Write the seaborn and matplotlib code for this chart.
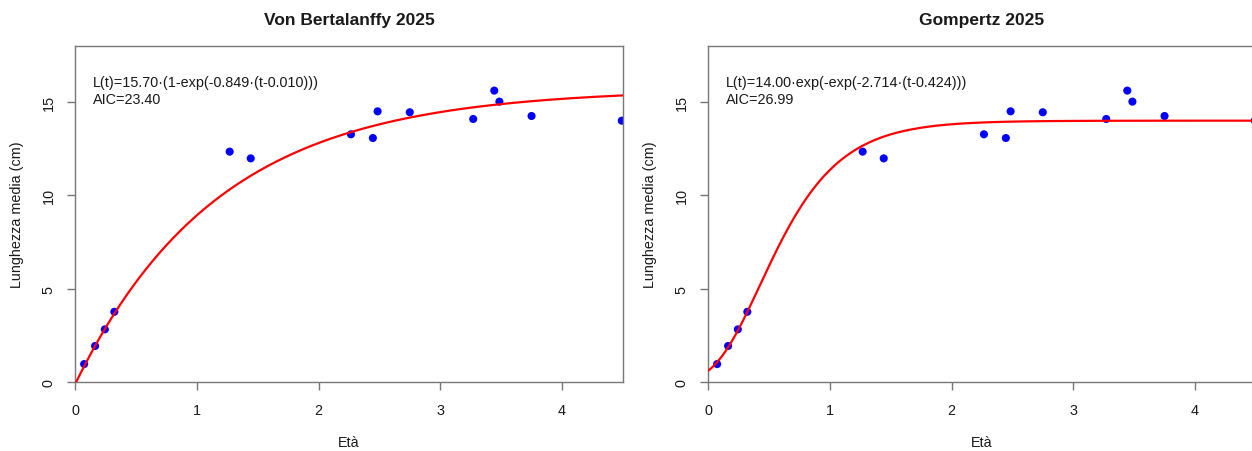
import numpy as np
import pandas as pd
import matplotlib
matplotlib.use("Agg")
import matplotlib.pyplot as plt
import seaborn as sns

# ---- data ----
age = [0.075, 0.165, 0.245, 0.323, 1.270, 1.443, 2.266, 2.446, 2.485,
       2.749, 3.270, 3.443, 3.485, 3.749, 4.490]
length_cm = [0.96, 1.93, 2.82, 3.76, 12.34, 11.98, 13.27, 13.07, 14.50,
             14.45, 14.09, 15.61, 15.02, 14.25, 14.00]

vb_Linf, vb_k, vb_t0 = 15.70, 0.849, 0.010
gz_Linf, gz_k, gz_ti = 14.00, 2.714, 0.424
aic_values = [23.40, 26.99]
titles = ["Von Bertalanffy 2025", "Gompertz 2025"]
x_ticks = [0, 1, 2, 3, 4]
y_ticks = [0, 5, 10, 15]
x_label = "Età"
y_label = "Lunghezza media (cm)"

points = pd.DataFrame({"age": age, "length": length_cm})

# model curves from the fitted parameters
t = np.linspace(0, 4.5, 500)
vb_curve = vb_Linf * (1 - np.exp(-vb_k * (t - vb_t0)))
gz_curve = gz_Linf * np.exp(-np.exp(-gz_k * (t - gz_ti)))
curves = [pd.DataFrame({"t": t, "L": vb_curve}),
          pd.DataFrame({"t": t, "L": gz_curve})]
formulas = [
    f"L(t)={vb_Linf:.2f}·(1-exp(-{vb_k:.3f}·(t-{vb_t0:.3f})))",
    f"L(t)={gz_Linf:.2f}·exp(-exp(-{gz_k:.3f}·(t-{gz_ti:.3f})))",
]

sns.set_theme(style="white")
plt.rcParams["font.family"] = ["Liberation Sans", "DejaVu Sans"]
plt.rcParams["text.color"] = "#1a1a1a"

W, H = 1252, 452
fig = plt.figure(figsize=(W / 100, H / 100), dpi=100)
fig.patch.set_facecolor("white")

ax_w = 548 / W
ax_h = 336 / H
bottom = (H - 383) / H
lefts = [75 / W, 708 / W]

edge = "#777777"
for i, left in enumerate(lefts):
    ax = fig.add_axes([left, bottom, ax_w, ax_h])
    ax.set_facecolor("white")
    sns.scatterplot(data=points, x="age", y="length", ax=ax, color="#0000FF",
                    s=34, linewidth=0, edgecolor="none", zorder=2)
    sns.lineplot(data=curves[i], x="t", y="L", ax=ax, color="#FF0000",
                 linewidth=1.6, estimator=None, zorder=3)
    ax.set_xlim(0, 4.5)
    ax.set_ylim(0, 18)
    ax.set_xticks(x_ticks)
    ax.set_yticks(y_ticks)
    ax.set_xticklabels([str(v) for v in x_ticks])
    ax.set_yticklabels([str(v) for v in y_ticks])
    for sp in ax.spines.values():
        sp.set_visible(True)
        sp.set_color(edge)
        sp.set_linewidth(1.0)
    ax.tick_params(axis="both", direction="out", length=5.8, width=1.0,
                   color=edge, labelsize=10.4, labelcolor="#1a1a1a")
    ax.tick_params(axis="x", pad=9, bottom=True)
    ax.tick_params(axis="y", pad=8, left=True, labelrotation=90)
    for lab in ax.get_yticklabels():
        lab.set_va("center")
    ax.set_xlabel(x_label, fontsize=10.4, color="#1a1a1a")
    ax.set_ylabel(y_label, fontsize=10.4, color="#1a1a1a")
    ax.xaxis.label.set_va("center")
    ax.yaxis.label.set_va("center")
    ax.xaxis.set_label_coords(0.5, (383 - 443) / 336)
    ax.yaxis.set_label_coords((17 - 75) / 548, 0.5)
    ax.set_title(titles[i], fontsize=12.5, fontweight="bold", pad=0,
                 y=(383 - 21) / 336, va="center", color="#1a1a1a")
    ax.text(0.033, (383 - 82.5) / 336, formulas[i], transform=ax.transAxes,
            fontsize=10.4, ha="left", va="center")
    ax.text(0.033, (383 - 100.5) / 336, f"AIC={aic_values[i]:.2f}",
            transform=ax.transAxes, fontsize=10.4, ha="left", va="center")
    ax.grid(False)

fig.savefig("out.png", dpi=100, facecolor="white")
